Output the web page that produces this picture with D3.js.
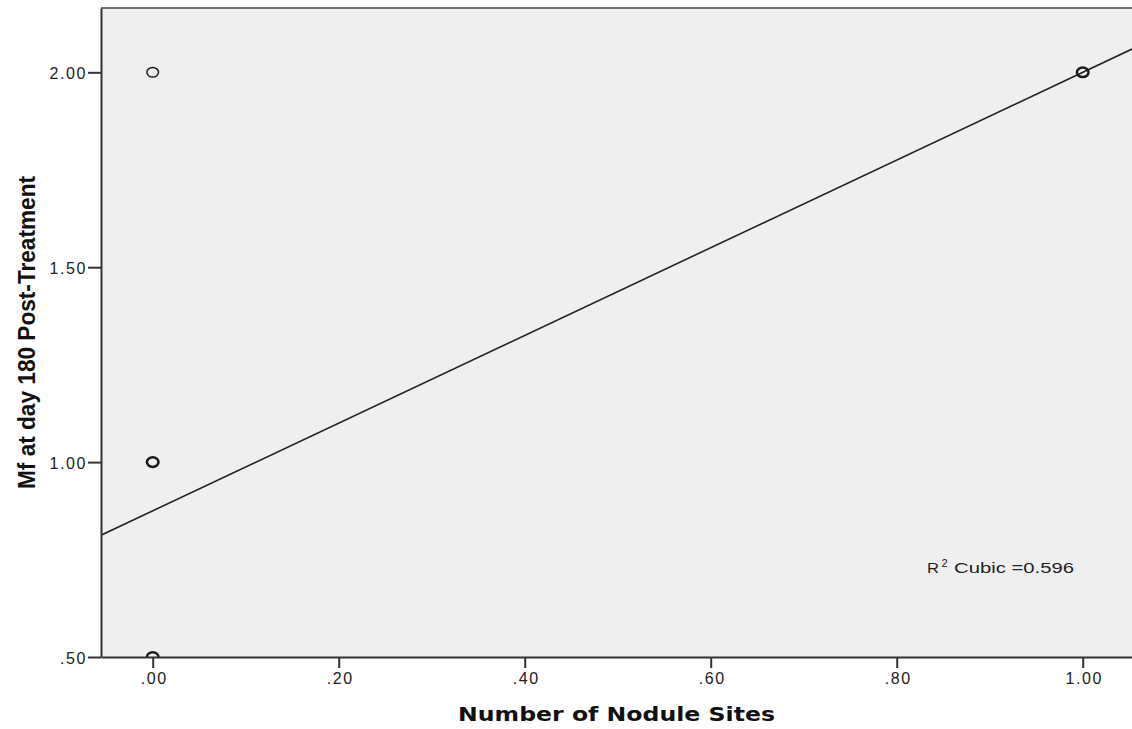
<!doctype html>
<html>
<head>
<meta charset="utf-8">
<title>Mf at day 180 vs Nodule Sites</title>
<style>
  body { margin: 0; background: #fff; }
  svg { display: block; }
</style>
</head>
<body>
<div id="here"></div>
<script src="https://d3js.org/d3.v7.min.js"></script>
<script>
// datos: puntos observados (x, y) y cuántos se superponen
var pointX = [0, 0, 0, 1];
var pointY = [2.0, 1.0, 0.5, 2.0];
var pointCount = [1, 3, 4, 2];

// recta ajustada (cubic fit, solo dos valores de x -> lineal)
var fitX = [0, 1];
var fitY = [0.875, 2.0];
var rSquared = "0.596";

var xTicks = [0, 0.2, 0.4, 0.6, 0.8, 1.0];
var yTicks = [0.5, 1.0, 1.5, 2.0];

var w = 1132, h = 729;
// ojo: "top" es window.top, por eso los nombres con p
var pLeft = 101, pRight = 1132, pTop = 8, pBottom = 657;

var x = d3.scaleLinear().domain([-0.0556, 1.053]).range([pLeft, pRight]);
var y = d3.scaleLinear().domain([0.5, 2.165]).range([pBottom, pTop]);

function fmt(v) { return d3.format(".2f")(v).replace(/^0/, ""); }

var svg = d3.select("#here").append("svg")
  .attr("width", w)
  .attr("height", h);

svg.append("defs").append("clipPath").attr("id", "plot")
  .append("rect")
  .attr("x", pLeft).attr("y", pTop)
  .attr("width", pRight - pLeft).attr("height", pBottom - pTop);

// fondo gris del área
svg.append("rect")
  .attr("x", pLeft).attr("y", pTop)
  .attr("width", pRight - pLeft).attr("height", pBottom - pTop)
  .attr("fill", "#efefef");

// borde superior
svg.append("line")
  .attr("x1", pLeft).attr("x2", pRight)
  .attr("y1", pTop).attr("y2", pTop)
  .attr("stroke", "#444").attr("stroke-width", 1.5);

var g = svg.append("g").attr("clip-path", "url(#plot)");

// recta ajustada extendida a todo el dominio
var slope = (fitY[1] - fitY[0]) / (fitX[1] - fitX[0]);
var x0 = x.domain()[0], x1 = x.domain()[1];
g.append("line")
  .attr("x1", x(x0)).attr("y1", y(fitY[0] + slope * (x0 - fitX[0])))
  .attr("x2", x(x1)).attr("y2", y(fitY[0] + slope * (x1 - fitX[0])))
  .attr("stroke", "#222").attr("stroke-width", 1.6);

// puntos (anillos); más gruesos donde se superponen
g.selectAll("ellipse")
  .data(pointX)
  .enter().append("ellipse")
  .attr("cx", function(d) { return x(d); })
  .attr("cy", function(d, i) { return y(pointY[i]); })
  .attr("rx", 5.8).attr("ry", 4.8)
  .attr("fill", "none")
  .attr("stroke", "#1a1a1a")
  .attr("stroke-width", function(d, i) { return pointCount[i] > 1 ? 2.5 : 1.5; });

// eje x
var xAxis = svg.append("g").attr("transform", "translate(0," + pBottom + ")")
  .call(d3.axisBottom(x).tickValues(xTicks).tickSize(11).tickSizeOuter(0).tickFormat(fmt));
xAxis.select(".domain").attr("stroke", "#333").attr("stroke-width", 2);
xAxis.selectAll(".tick line").attr("stroke", "#333").attr("stroke-width", 2);
xAxis.selectAll(".tick text")
  .attr("y", 27)
  .attr("dy", 0)
  .attr("dx", 1)
  .style("font-family", "Liberation Sans, Arial, sans-serif")
  .style("font-size", "16px")
  .style("letter-spacing", "1.6px")
  .attr("fill", "#222");

// eje y
var yAxis = svg.append("g").attr("transform", "translate(" + pLeft + ",0)")
  .call(d3.axisLeft(y).tickValues(yTicks).tickSize(13).tickSizeOuter(0).tickFormat(fmt));
yAxis.select(".domain").attr("stroke", "#333").attr("stroke-width", 2);
yAxis.selectAll(".tick line").attr("stroke", "#333").attr("stroke-width", 2);
yAxis.selectAll(".tick text")
  .attr("x", -14)
  .attr("dy", "0.38em")
  .style("font-family", "Liberation Sans, Arial, sans-serif")
  .style("font-size", "16px")
  .style("letter-spacing", "1.6px")
  .attr("fill", "#222");

// títulos
svg.append("text")
  .attr("x", (pLeft + pRight) / 2)
  .attr("y", 721)
  .attr("text-anchor", "middle")
  .attr("textLength", 317)
  .attr("lengthAdjust", "spacingAndGlyphs")
  .style("font-family", "DejaVu Sans, Verdana, sans-serif")
  .style("font-weight", "bold")
  .style("font-size", "20px")
  .attr("fill", "#111")
  .text("Number of Nodule Sites");

svg.append("text")
  .attr("transform", "translate(35," + (pTop + pBottom) / 2 + ") rotate(-90)")
  .attr("text-anchor", "middle")
  .attr("textLength", 313)
  .attr("lengthAdjust", "spacingAndGlyphs")
  .style("font-family", "Liberation Sans Narrow, Liberation Sans, Arial, sans-serif")
  .style("font-weight", "bold")
  .style("font-size", "24px")
  .attr("fill", "#111")
  .text("Mf at day 180 Post-Treatment");

// R cuadrado
var rt = svg.append("g")
  .style("font-family", "Liberation Sans, Arial, sans-serif")
  .attr("fill", "#222");
rt.append("text").attr("x", 927).attr("y", 573).style("font-size", "15px")
  .attr("textLength", 12).attr("lengthAdjust", "spacingAndGlyphs").text("R");
rt.append("text").attr("x", 941.5).attr("y", 567).style("font-size", "11px").text("2");
rt.append("text").attr("x", 954).attr("y", 573).style("font-size", "15px")
  .attr("textLength", 120).attr("lengthAdjust", "spacingAndGlyphs")
  .text("Cubic =" + rSquared);
</script>
</body>
</html>
